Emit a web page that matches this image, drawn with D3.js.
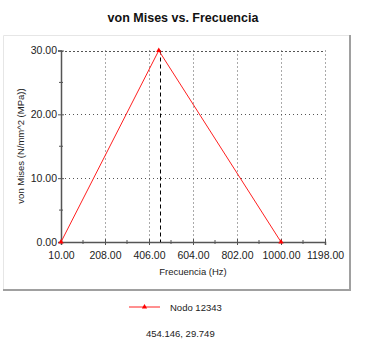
<!DOCTYPE html>
<html><head><meta charset="utf-8">
<script src="https://cdn.jsdelivr.net/npm/d3@7"></script>
<style>
body{margin:0;background:#fff;}
svg{display:block;font-family:"Liberation Sans",Arial,sans-serif;}
</style></head>
<body><svg id="c" width="366" height="342"></svg>
<script>
const freq = [10, 450, 1000];
const vonMises = [0, 30, 0];
const xTicks = [10, 208, 406, 604, 802, 1000, 1198];
const yTicks = [0, 10, 20, 30];
const xMinorTicks = [109, 307, 505, 703, 901, 1099];
const yMinorTicks = [5, 15, 25];
const cursor = [454.146, 29.749];
const seriesName = "Nodo 12343";

const svg = d3.select("#c");
const x = d3.scaleLinear().domain([10, 1198]).range([61, 325]);
const y = d3.scaleLinear().domain([0, 30]).range([242, 50.5]);

// title
svg.append("text").attr("x", 183).attr("y", 22).attr("text-anchor", "middle")
  .attr("font-weight", "bold").attr("font-size", 12.5).attr("fill", "#111").text("von Mises vs. Frecuencia");

// panel frame
svg.append("line").attr("x1",3.5).attr("x2",350).attr("y1",35.5).attr("y2",35.5).attr("stroke","#e6e6e6");
svg.append("line").attr("x1",3.5).attr("x2",3.5).attr("y1",35.5).attr("y2",290).attr("stroke","#e6e6e6");
svg.append("line").attr("x1",350).attr("x2",350).attr("y1",35).attr("y2",291).attr("stroke","#a0a0a0").attr("stroke-width",2);
svg.append("line").attr("x1",3).attr("x2",351).attr("y1",290).attr("y2",290).attr("stroke","#a0a0a0").attr("stroke-width",2);

// grid
const g = svg.append("g");
xTicks.slice(1).forEach(t => g.append("line").attr("x1", Math.round(x(t))+0.5).attr("x2", Math.round(x(t))+0.5)
  .attr("y1", y(30)).attr("y2", y(0)).attr("stroke", "#555").attr("stroke-dasharray", "1,3"));
yTicks.slice(1).forEach(t => g.append("line").attr("x1", x(10)).attr("x2", x(1198))
  .attr("y1", Math.round(y(t))+0.5).attr("y2", Math.round(y(t))+0.5).attr("stroke", "#555")
  .attr("stroke-dasharray", t === 30 ? "2,2" : "1,3"));

// axes
const xAxis = d3.axisBottom(x).tickValues(xTicks).tickFormat(d3.format(".2f")).tickSize(3).tickPadding(7);
const ax = svg.append("g").attr("transform", "translate(0,242)").call(xAxis);
ax.select(".domain").attr("stroke", "#555").attr("stroke-width", 1.5);
ax.selectAll(".tick line").attr("stroke", "#555").attr("y1", -3);
ax.selectAll("text").attr("font-size", 10.5).attr("fill", "#222").attr("font-family", "Liberation Sans, Arial, sans-serif");
ax.selectAll(".xminor").data(xMinorTicks).enter().append("line").attr("x1", d => x(d)).attr("x2", d => x(d))
  .attr("y1", -2).attr("y2", 2).attr("stroke", "#555");

const yAxis = d3.axisLeft(y).tickValues(yTicks).tickFormat(d3.format(".2f")).tickSize(3).tickPadding(1);
const ay = svg.append("g").attr("transform", "translate(61,0)").call(yAxis);
ay.select(".domain").attr("stroke", "#555").attr("stroke-width", 1.5);
ay.selectAll(".tick line").attr("stroke", "#555").attr("x2", 3).attr("x1", -3);
ay.selectAll("text").attr("font-size", 10.5).attr("fill", "#222").attr("font-family", "Liberation Sans, Arial, sans-serif");
ay.selectAll(".yminor").data(yMinorTicks).enter().append("line").attr("y1", d => y(d)).attr("y2", d => y(d))
  .attr("x1", -2).attr("x2", 2).attr("stroke", "#555");

// axis titles
svg.append("text").attr("x", 193).attr("y", 275).attr("text-anchor", "middle").attr("font-size", 9.5)
  .attr("fill", "#222").text("Frecuencia (Hz)");
svg.append("text").attr("transform", "translate(24,146) rotate(-90)").attr("text-anchor", "middle")
  .attr("font-size", 9.5).attr("fill", "#222").text("von Mises (N/mm^2 (MPa))");

// cursor line
svg.append("line").attr("x1", Math.round(x(cursor[0]))+0.5).attr("x2", Math.round(x(cursor[0]))+0.5)
  .attr("y1", y(30)).attr("y2", y(0)).attr("stroke", "#000").attr("stroke-dasharray", "4,3");

// series
const pts = freq.map((f, i) => [f, vonMises[i]]);
svg.append("path").datum(pts).attr("fill", "none").attr("stroke", "#ff2020").attr("stroke-width", 1)
  .attr("d", d3.line().x(d => x(d[0])).y(d => y(d[1])));
const tri = d3.symbol().type(d3.symbolTriangle).size(12);
svg.selectAll(".mk").data(pts).enter().append("path").attr("d", tri)
  .attr("transform", d => `translate(${x(d[0])},${y(d[1])})`).attr("fill", "#ff0000");

// legend
svg.append("line").attr("x1", 129).attr("x2", 160).attr("y1", 307).attr("y2", 307).attr("stroke", "#ff2020");
svg.append("path").attr("d", tri).attr("transform", "translate(144.5,307)").attr("fill", "#ff0000");
svg.append("text").attr("x", 170).attr("y", 310.5).attr("font-size", 9.5).attr("fill", "#222").text(seriesName);
svg.append("text").attr("x", 146).attr("y", 337).attr("font-size", 9.5).attr("fill", "#222")
  .text(cursor[0].toFixed(3) + ", " + cursor[1].toFixed(3));
</script></body></html>
